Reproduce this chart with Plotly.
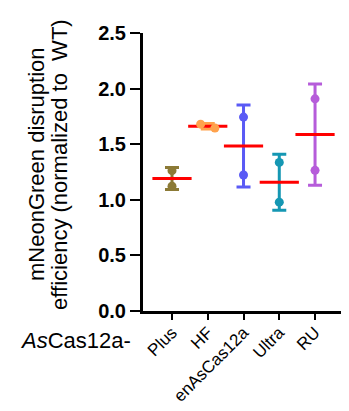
import plotly.graph_objects as go
import numpy as np

categories = ["Plus", "HF", "enAsCas12a", "Ultra", "RU"]
values = [
    [1.262, 1.122],
    [1.680, 1.645],
    [1.744, 1.223],
    [1.336, 0.979],
    [1.908, 1.265],
]
# horizontal offsets (GraphPad-style side-by-side placement of overlapping points)
offsets = [
    [0.0, 0.0],
    [-0.2, 0.2],
    [0.0, 0.0],
    [0.0, 0.0],
    [0.0, 0.0],
]
colors = ["#8C7A36", "#FFA24C", "#5A5AF5", "#1597B3", "#B65CDA"]
y_ticks = [0.0, 0.5, 1.0, 1.5, 2.0, 2.5]

FONT = "Liberation Sans, Arial, sans-serif"

fig = go.Figure()
for i, (cat, vals, offs, col) in enumerate(zip(categories, values, offsets, colors)):
    m = float(np.mean(vals))
    sd = float(np.std(vals, ddof=1))
    # error bar (mean ± SD)
    fig.add_trace(go.Scatter(
        x=[i], y=[m], mode="markers",
        marker=dict(size=1, color="rgba(0,0,0,0)"),
        error_y=dict(type="data", array=[sd], color=col, thickness=3, width=7, visible=True),
        showlegend=False, hoverinfo="skip"))
    # mean line
    fig.add_trace(go.Scatter(
        x=[i], y=[m], mode="markers",
        marker=dict(symbol="line-ew", size=28, line=dict(color="#FF0000", width=3)),
        showlegend=False))
    # points
    fig.add_trace(go.Scatter(
        x=[i + o for o in offs], y=vals, mode="markers",
        marker=dict(size=9, color=col),
        showlegend=False))

fig.update_layout(
    width=341, height=403,
    margin=dict(l=135, r=5, t=25, b=98),
    plot_bgcolor="white", paper_bgcolor="white",
    font=dict(family=FONT, color="black"),
)
fig.update_xaxes(
    range=[-0.811, 4.81],
    tickmode="array", tickvals=list(range(len(categories))), ticktext=categories,
    tickangle=-45, tickfont=dict(size=17, family=FONT),
    ticklabelstandoff=-4,
    showline=True, linewidth=3, linecolor="black",
    ticks="outside", ticklen=6, tickwidth=2, tickcolor="black",
    showgrid=False, zeroline=False,
)
fig.update_yaxes(
    range=[0, 2.5],
    tickmode="array", tickvals=y_ticks, ticktext=[f"{v:.1f}" for v in y_ticks],
    tickfont=dict(size=20, family=FONT, weight="bold"),
    showline=True, linewidth=3, linecolor="black",
    ticks="outside", ticklen=10, tickwidth=2, tickcolor="black",
    showgrid=False, zeroline=False,
)
fig.add_annotation(
    text="mNeonGreen disruption",
    xref="paper", yref="paper", x=-0.527, y=0.529,
    xanchor="center", yanchor="middle", textangle=-90, showarrow=False,
    font=dict(size=22, family=FONT),
)
fig.add_annotation(
    text="efficiency (normalized to&nbsp; WT)",
    xref="paper", yref="paper", x=-0.413, y=0.529,
    xanchor="center", yanchor="middle", textangle=-90, showarrow=False,
    font=dict(size=22, family=FONT),
)
fig.add_annotation(
    text="<i>As</i>Cas12a-",
    xref="paper", yref="paper", x=-0.05, y=-0.105,
    xanchor="right", yanchor="middle", showarrow=False,
    font=dict(size=22, family=FONT),
)

fig.write_html("out.html")
